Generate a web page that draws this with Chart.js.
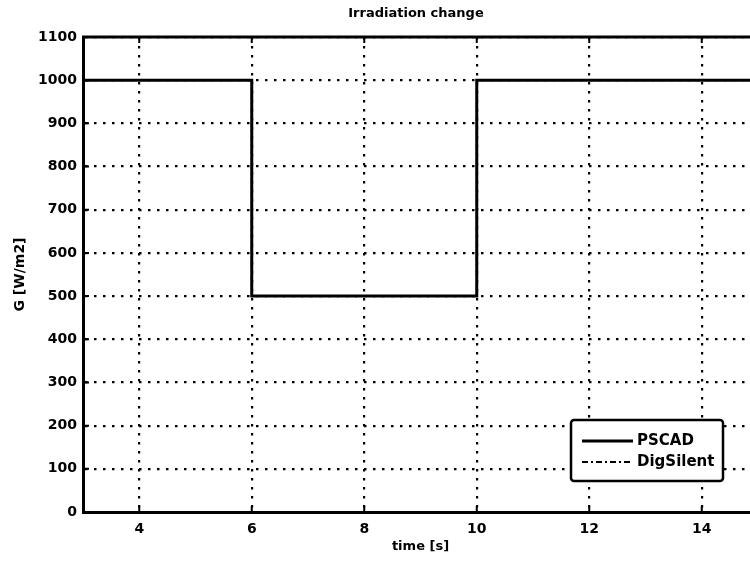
<!DOCTYPE html>
<html>
<head>
<meta charset="utf-8">
<script src="https://cdn.jsdelivr.net/npm/chart.js@4.4.1/dist/chart.umd.min.js"></script>
<style>
  html, body { margin: 0; padding: 0; background: #fff; overflow: hidden; }
  #wrap { width: 758px; height: 566px; }
</style>
</head>
<body>
<div id="wrap"><canvas id="c" width="758" height="566"></canvas></div>
<script>
// ---- data ----
const chartTitle = 'Irradiation change';
const xAxisTitle = 'time [s]';
const yAxisTitle = 'G [W/m2]';
const xTicks = [4, 6, 8, 10, 12, 14];
const yTicks = [0, 100, 200, 300, 400, 500, 600, 700, 800, 900, 1000, 1100];
const xRange = [3, 15];
const yRange = [0, 1100];
const timeS = [3, 6, 6, 10, 10, 15];
const pscadG = [1000, 1000, 500, 500, 1000, 1000];
const digsilentG = [1000, 1000, 500, 500, 1000, 1000];
const seriesNames = ['PSCAD', 'DigSilent'];

const FONT = 'DejaVu Sans';
const toPts = (xs, ys) => xs.map((x, i) => ({ x: x, y: ys[i] }));

const framePlugin = {
  id: 'frame',
  afterDraw(chart) {
    const ctx = chart.ctx;
    const ca = chart.chartArea;
    const xs = chart.scales.x, ys = chart.scales.y;
    ctx.save();
    // inward ticks (matlab style)
    ctx.strokeStyle = '#000';
    ctx.lineWidth = 2;
    ctx.setLineDash([]);
    ctx.beginPath();
    xTicks.forEach(v => {
      const px = xs.getPixelForValue(v);
      ctx.moveTo(px, ca.bottom); ctx.lineTo(px, ca.bottom - 6);
      ctx.moveTo(px, ca.top); ctx.lineTo(px, ca.top + 6);
    });
    yTicks.forEach(v => {
      const py = ys.getPixelForValue(v);
      ctx.moveTo(ca.left, py); ctx.lineTo(ca.left + 6, py);
    });
    ctx.stroke();
    // top frame line
    ctx.lineWidth = 3;
    ctx.beginPath();
    ctx.moveTo(ca.left - 1, ca.top);
    ctx.lineTo(ca.right + 2, ca.top);
    ctx.stroke();
    // chart title
    ctx.fillStyle = '#000';
    ctx.font = 'bold 13px "' + FONT + '"';
    ctx.textAlign = 'center';
    ctx.textBaseline = 'middle';
    ctx.fillText(chartTitle, 416, 14);
    // legend box inside the axes
    const bx = ca.right - 187, by = ca.bottom - 92, bw = 152, bh = 61;
    ctx.fillStyle = '#fff';
    ctx.lineWidth = 2.5;
    ctx.beginPath();
    if (ctx.roundRect) ctx.roundRect(bx, by, bw, bh, 3); else ctx.rect(bx, by, bw, bh);
    ctx.fill();
    ctx.stroke();
    const ds = chart.data.datasets;
    const rows = [by + 21, by + 42];
    ds.forEach((d, i) => {
      ctx.strokeStyle = '#000';
      ctx.lineWidth = d.borderWidth;
      ctx.setLineDash(d.borderDash || []);
      ctx.beginPath();
      ctx.moveTo(bx + 11, rows[i]);
      ctx.lineTo(bx + 62, rows[i]);
      ctx.stroke();
      ctx.setLineDash([]);
      ctx.fillStyle = '#000';
      ctx.font = 'bold 15px "' + FONT + '"';
      ctx.textAlign = 'left';
      ctx.textBaseline = 'middle';
      ctx.fillText(d.label, bx + 66, rows[i]);
    });
    ctx.restore();
  }
};

new Chart(document.getElementById('c'), {
  type: 'line',
  data: {
    datasets: [
      {
        label: seriesNames[0],
        data: toPts(timeS, pscadG),
        borderColor: '#000',
        borderWidth: 3,
        pointRadius: 0,
        tension: 0,
        fill: false,
        order: 1
      },
      {
        label: seriesNames[1],
        data: toPts(timeS, digsilentG),
        borderColor: '#000',
        borderWidth: 1.8,
        borderDash: [6, 3, 2, 3],
        pointRadius: 0,
        tension: 0,
        fill: false,
        order: 2
      }
    ]
  },
  options: {
    responsive: false,
    animation: false,
    devicePixelRatio: 1,
    layout: { padding: { top: 37, right: 0, bottom: 0, left: 0 } },
    plugins: { legend: { display: false }, title: { display: false }, tooltip: { enabled: false } },
    scales: {
      x: {
        type: 'linear',
        min: xRange[0], max: xRange[1],
        afterBuildTicks: s => { s.ticks = xTicks.map(v => ({ value: v })); },
        afterFit: s => { s.height = 54; },
        grid: { color: '#000', lineWidth: 2.2, drawTicks: false },
        border: { display: true, color: '#000', width: 3, dash: [2.5, 6.5] },
        ticks: { color: '#000', padding: 9, maxRotation: 0, callback: v => String(v), font: { family: FONT, weight: 'bold', size: 14 } },
        title: { display: true, text: xAxisTitle, color: '#000', padding: { top: 0, bottom: 12 }, font: { family: FONT, weight: 'bold', size: 13 } }
      },
      y: {
        type: 'linear',
        min: yRange[0], max: yRange[1],
        afterBuildTicks: s => { s.ticks = yTicks.map(v => ({ value: v })); },
        afterFit: s => { s.width = 83; },
        grid: { color: '#000', lineWidth: 2.2, drawTicks: false },
        border: { display: true, color: '#000', width: 3, dash: [2.5, 6.5] },
        ticks: { color: '#000', padding: 6, callback: v => String(v), font: { family: FONT, weight: 'bold', size: 14 } },
        title: { display: true, text: yAxisTitle, color: '#000', padding: { top: 12, bottom: 0 }, font: { family: FONT, weight: 'bold', size: 14 } }
      }
    }
  },
  plugins: [framePlugin]
});
</script>
</body>
</html>
